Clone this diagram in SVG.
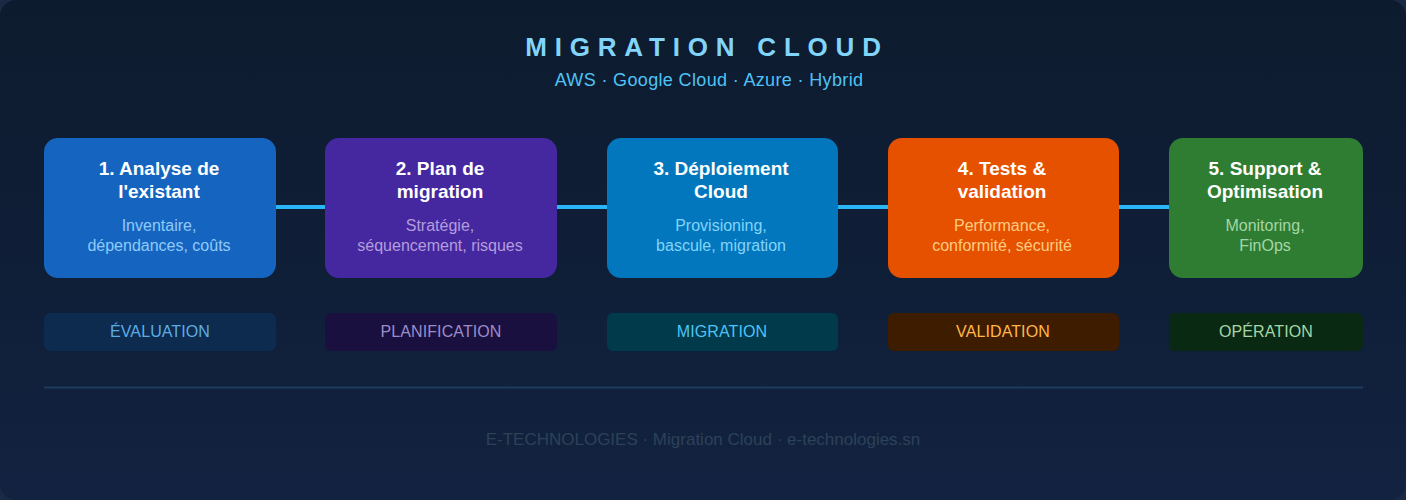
<svg xmlns="http://www.w3.org/2000/svg" width="1406" height="500" viewBox="0 0 1406 500">
<defs>
<linearGradient id="bg" x1="0" y1="0" x2="0" y2="1">
<stop offset="0" stop-color="#0d1b2e"/>
<stop offset="1" stop-color="#122240"/>
</linearGradient>
<style>
.t{font-family:"Liberation Sans",Arial,sans-serif;text-anchor:middle}
.nt{font-size:19px;font-weight:bold;fill:#ffffff}
.nd{font-size:16px}
.lb{font-size:16px;letter-spacing:0.1px}
.conn{stroke:#29b6f6;stroke-width:4}
</style>
</defs>
<rect x="0" y="0" width="1406" height="500" fill="#1a2a44"/>
<rect x="0" y="0" width="1406" height="500" rx="16" fill="url(#bg)"/>
<text class="t" x="707" y="56" font-size="26" font-weight="bold" fill="#81d4fa" letter-spacing="7.8">MIGRATION CLOUD</text>
<text class="t" x="709" y="86" font-size="18" fill="#4fc3f7" letter-spacing="0.35">AWS · Google Cloud · Azure · Hybrid</text>
<g id="connectors">
<line class="conn" x1="276" y1="207" x2="325" y2="207"/>
<line class="conn" x1="557" y1="207" x2="607" y2="207"/>
<line class="conn" x1="838" y1="207" x2="888" y2="207"/>
<line class="conn" x1="1119" y1="207" x2="1169" y2="207"/>
</g>
<g id="node1">
<rect x="44" y="138" width="232" height="140" rx="14" fill="#1565c0"/>
<text class="t nt" x="159" y="175">1. Analyse de</text>
<text class="t nt" x="159" y="198">l'existant</text>
<text class="t nd" x="159" y="231" fill="#90caf9">Inventaire,</text>
<text class="t nd" x="159" y="251" fill="#90caf9">dépendances, coûts</text>
</g>
<g id="node2">
<rect x="325" y="138" width="232" height="140" rx="14" fill="#4527a0"/>
<text class="t nt" x="440" y="175">2. Plan de</text>
<text class="t nt" x="440" y="198">migration</text>
<text class="t nd" x="440" y="231" fill="#b39ddb">Stratégie,</text>
<text class="t nd" x="440" y="251" fill="#b39ddb">séquencement, risques</text>
</g>
<g id="node3">
<rect x="607" y="138" width="231" height="140" rx="14" fill="#0277bd"/>
<text class="t nt" x="721" y="175">3. Déploiement</text>
<text class="t nt" x="721" y="198">Cloud</text>
<text class="t nd" x="721" y="231" fill="#81d4fa">Provisioning,</text>
<text class="t nd" x="721" y="251" fill="#81d4fa">bascule, migration</text>
</g>
<g id="node4">
<rect x="888" y="138" width="231" height="140" rx="14" fill="#e65100"/>
<text class="t nt" x="1002" y="175">4. Tests &amp;</text>
<text class="t nt" x="1002" y="198">validation</text>
<text class="t nd" x="1002" y="231" fill="#ffcc80">Performance,</text>
<text class="t nd" x="1002" y="251" fill="#ffcc80">conformité, sécurité</text>
</g>
<g id="node5">
<rect x="1169" y="138" width="194" height="140" rx="14" fill="#2e7d32"/>
<text class="t nt" x="1265" y="175">5. Support &amp;</text>
<text class="t nt" x="1265" y="198">Optimisation</text>
<text class="t nd" x="1265" y="231" fill="#a5d6a7">Monitoring,</text>
<text class="t nd" x="1265" y="251" fill="#a5d6a7">FinOps</text>
</g>
<g id="label1">
<rect x="44" y="313" width="232" height="38" rx="6" fill="#0d2a4f"/>
<text class="t lb" x="160" y="337" fill="#5dade2">ÉVALUATION</text>
</g>
<g id="label2">
<rect x="325" y="313" width="232" height="38" rx="6" fill="#1a1040"/>
<text class="t lb" x="441" y="337" fill="#9c8cc9">PLANIFICATION</text>
</g>
<g id="label3">
<rect x="607" y="313" width="231" height="38" rx="6" fill="#013a4a"/>
<text class="t lb" x="722" y="337" fill="#4fc3f7">MIGRATION</text>
</g>
<g id="label4">
<rect x="888" y="313" width="231" height="38" rx="6" fill="#3e1c00"/>
<text class="t lb" x="1003" y="337" fill="#ffb74d">VALIDATION</text>
</g>
<g id="label5">
<rect x="1169" y="313" width="194" height="38" rx="6" fill="#0a2912"/>
<text class="t lb" x="1266" y="337" fill="#a5d6a7">OPÉRATION</text>
</g>
<line x1="44" y1="387.5" x2="1363" y2="387.5" stroke="#1e3a5f" stroke-width="2"/>
<text class="t" x="703" y="445" font-size="17" fill="#2c4258">E-TECHNOLOGIES · Migration Cloud · e-technologies.sn</text>
</svg>
